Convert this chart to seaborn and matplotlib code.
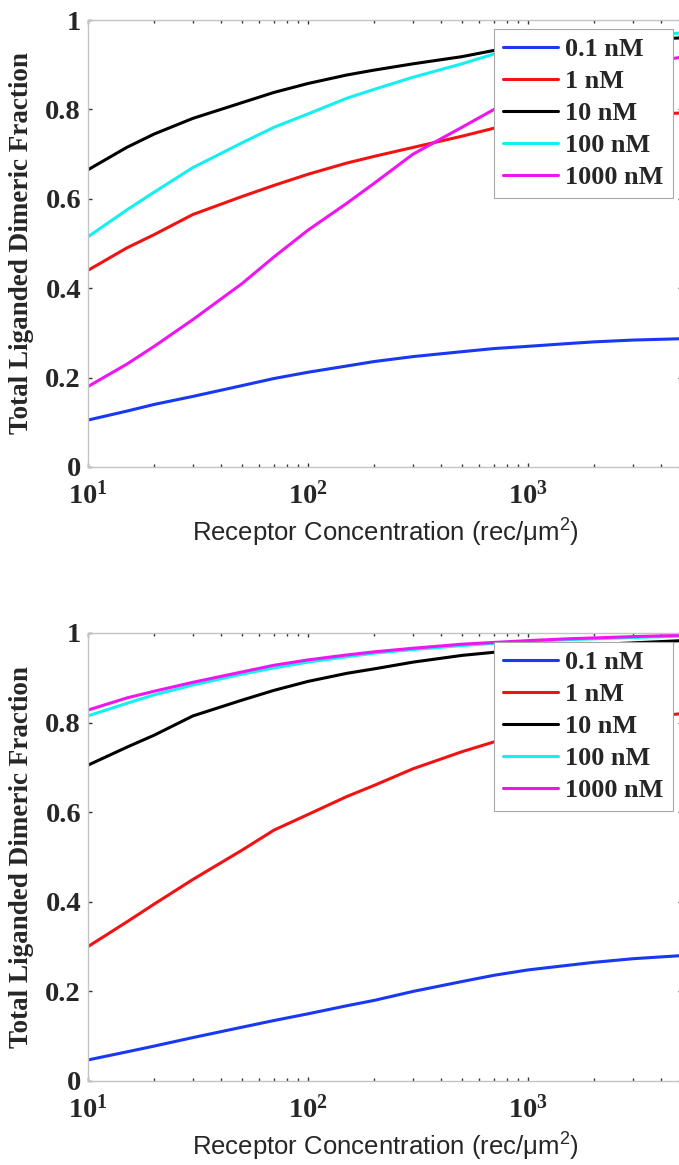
import numpy as np
import pandas as pd
import matplotlib
matplotlib.use("Agg")
import matplotlib.pyplot as plt
import seaborn as sns
from matplotlib.ticker import FixedLocator, FixedFormatter, LogLocator, NullFormatter

# Receptor surface density (rec/um^2) at which the dimeric fraction is sampled
receptor = [10, 15, 20, 30, 50, 70, 100, 150, 200, 300, 500, 700, 1000, 1500, 2000, 3000, 5000]

ligand_labels = ["0.1 nM", "1 nM", "10 nM", "100 nM", "1000 nM"]
line_colors = ["#1838f4", "#f21212", "#000000", "#14f0f0", "#f014f0"]

# Upper panel: total liganded dimeric fraction per ligand concentration
top_01nM = [0.105, 0.125, 0.140, 0.158, 0.182, 0.198, 0.212, 0.226, 0.236, 0.247, 0.258, 0.265, 0.270, 0.276, 0.280, 0.284, 0.287]
top_1nM = [0.440, 0.490, 0.520, 0.565, 0.605, 0.630, 0.655, 0.680, 0.695, 0.715, 0.740, 0.758, 0.768, 0.776, 0.781, 0.787, 0.792]
top_10nM = [0.665, 0.715, 0.745, 0.780, 0.815, 0.838, 0.858, 0.877, 0.888, 0.902, 0.918, 0.932, 0.940, 0.947, 0.951, 0.956, 0.960]
top_100nM = [0.515, 0.575, 0.615, 0.670, 0.725, 0.760, 0.790, 0.825, 0.845, 0.872, 0.902, 0.924, 0.937, 0.949, 0.956, 0.964, 0.971]
top_1000nM = [0.180, 0.230, 0.270, 0.330, 0.410, 0.470, 0.530, 0.590, 0.635, 0.700, 0.760, 0.800, 0.835, 0.865, 0.880, 0.900, 0.917]

# Lower panel
bot_01nM = [0.047, 0.065, 0.078, 0.097, 0.120, 0.135, 0.150, 0.168, 0.180, 0.200, 0.222, 0.236, 0.248, 0.258, 0.265, 0.273, 0.280]
bot_1nM = [0.300, 0.355, 0.395, 0.450, 0.515, 0.560, 0.595, 0.635, 0.660, 0.697, 0.735, 0.757, 0.775, 0.790, 0.800, 0.810, 0.820]
bot_10nM = [0.705, 0.745, 0.772, 0.815, 0.850, 0.872, 0.892, 0.910, 0.920, 0.935, 0.950, 0.957, 0.963, 0.970, 0.974, 0.978, 0.983]
bot_100nM = [0.815, 0.843, 0.862, 0.884, 0.908, 0.922, 0.935, 0.947, 0.955, 0.963, 0.972, 0.977, 0.981, 0.985, 0.987, 0.990, 0.993]
bot_1000nM = [0.828, 0.855, 0.870, 0.890, 0.913, 0.928, 0.940, 0.951, 0.958, 0.966, 0.975, 0.979, 0.983, 0.987, 0.989, 0.992, 0.995]

y_ticks = [0, 0.2, 0.4, 0.6, 0.8, 1.0]
y_tick_labels = ["0", "0.2", "0.4", "0.6", "0.8", "1"]
x_ticks = [10, 100, 1000]
x_tick_labels = ["$10^{1}$", "$10^{2}$", "$10^{3}$"]

sns.set_style("white")
plt.rcParams["font.family"] = ["Liberation Serif", "DejaVu Serif"]
plt.rcParams["mathtext.default"] = "regular"

W, H = 679, 1165
fig = plt.figure(figsize=(W / 100, H / 100), dpi=100)
fig.patch.set_facecolor("white")

panels = [
    ([top_01nM, top_1nM, top_10nM, top_100nM, top_1000nM], 20, 467),
    ([bot_01nM, bot_1nM, bot_10nM, bot_100nM, bot_1000nM], 633, 1081),
]

serif_bold = {"family": "Liberation Serif", "weight": "bold"}

for series, top_px, bottom_px in panels:
    left_px, right_px = 88, 682
    ax = fig.add_axes([left_px / W, 1 - bottom_px / H,
                       (right_px - left_px) / W, (bottom_px - top_px) / H])
    df = pd.DataFrame({
        "receptor": np.tile(receptor, len(ligand_labels)),
        "fraction": np.concatenate(series),
        "ligand": np.repeat(ligand_labels, len(receptor)),
    })
    sns.lineplot(data=df, x="receptor", y="fraction", hue="ligand",
                 hue_order=ligand_labels, palette=line_colors,
                 linewidth=2.2, legend=False, ax=ax)
    ax.set_xscale("log")
    ax.set_xlim(10, 5000)
    ax.set_ylim(0, 1)

    ax.xaxis.set_major_locator(FixedLocator(x_ticks))
    ax.xaxis.set_major_formatter(FixedFormatter(x_tick_labels))
    ax.xaxis.set_minor_locator(LogLocator(base=10, subs=range(2, 10)))
    ax.xaxis.set_minor_formatter(NullFormatter())
    ax.yaxis.set_major_locator(FixedLocator(y_ticks))
    ax.yaxis.set_major_formatter(FixedFormatter(y_tick_labels))

    ax.tick_params(which="both", direction="in", top=True, right=True,
                   bottom=True, left=True, color="#333333", width=1.0)
    ax.tick_params(which="major", length=3, labelsize=20.5)
    ax.tick_params(axis="y", which="major", pad=5)
    ax.tick_params(axis="x", which="major", pad=10)
    ax.tick_params(which="minor", length=2)
    for lab in ax.get_xticklabels() + ax.get_yticklabels():
        lab.set_fontweight("bold")
        lab.set_fontfamily("Liberation Serif")

    for sp in ax.spines.values():
        sp.set_color("#c4c4c4")
        sp.set_linewidth(1.0)

    ax.set_ylabel("Total Liganded Dimeric Fraction", fontsize=19.5,
                  labelpad=8, **serif_bold)
    ax.set_xlabel("Receptor Concentration (rec/\u03bcm$^{2}$)", fontsize=18.5,
                  family="Liberation Sans", weight="normal", labelpad=5)

    ax.legend(handles=ax.lines[:len(ligand_labels)], labels=ligand_labels,
              loc="upper right",
              bbox_to_anchor=(673 / W, 1 - (top_px + 9) / H),
              bbox_transform=fig.transFigure, borderaxespad=0,
              prop={"family": "Liberation Serif", "weight": "bold", "size": 18.8},
              frameon=True, fancybox=False, framealpha=1, edgecolor="#a8a8a8",
              handlelength=2.1, handletextpad=0.3, labelspacing=0.33,
              borderpad=0.35)
    ax.get_legend().get_frame().set_linewidth(0.8)

fig.savefig("out.png", dpi=100, facecolor="white")
